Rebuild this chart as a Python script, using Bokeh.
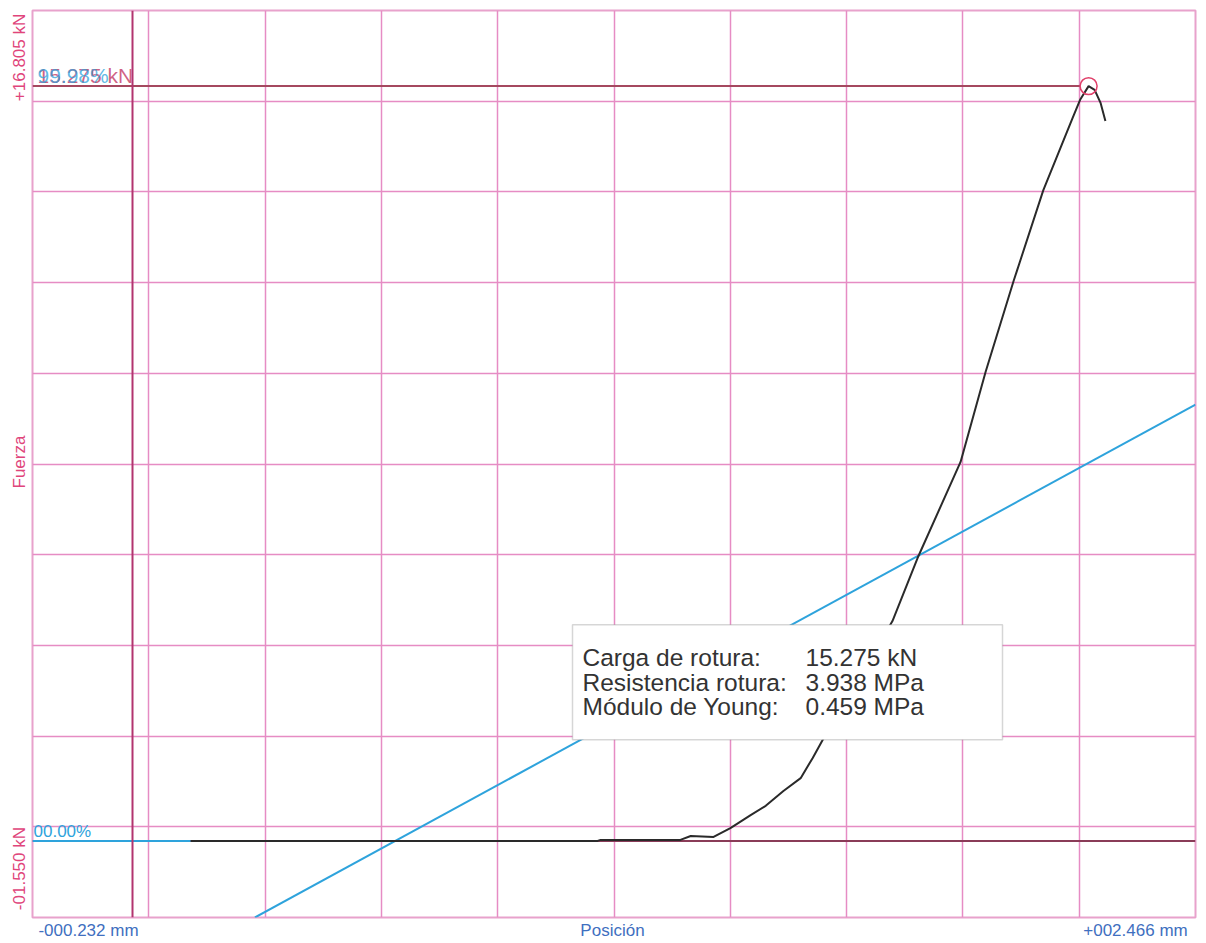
import math
from bokeh.plotting import figure
from bokeh.models import (Label, Span, Grid, FixedTicker, Range1d, BoxAnnotation,
                          LinearAxis)
from bokeh.embed import file_html
from bokeh.resources import INLINE

# ---- data ----
x_min, x_max = -0.232, 2.466
y_min, y_max = -1.550, 16.805

pos_mm = [0.135, 0.622, 1.079, 1.086, 1.271, 1.295, 1.348, 1.387, 1.434, 1.469,
          1.510, 1.550, 1.578, 1.601, 1.680, 1.763, 1.821, 1.921, 1.979, 2.044,
          2.113, 2.181, 2.199, 2.218, 2.232, 2.246, 2.257]
force_kN = [0.00, 0.00, 0.00, 0.02, 0.02, 0.10, 0.08, 0.26, 0.52, 0.71,
            1.01, 1.27, 1.68, 2.04, 3.20, 4.45, 5.72, 7.67, 9.49, 11.33,
            13.17, 14.63, 15.01, 15.275, 15.20, 14.93, 14.57]

young_x = [0.284, 2.466]
young_y = [-1.550, 8.83]

peak_x, peak_y = 2.218, 15.275

x_labels = ["-000.232 mm", "Posición", "+002.466 mm"]
y_labels = ["-01.550 kN", "Fuerza", "+16.805 kN"]
marker_labels = ["00.00%", "99.98%", "15.275 kN"]
box_names = ["Carga de rotura:", "Resistencia rotura:", "Módulo de Young:"]
box_values = ["15.275 kN", "3.938 MPa", "0.459 MPa"]

# ---- layout (page pixels of the frame) ----
FL, FR, FT, FB = 32, 1195, 10, 918
W, H = 1198, 942


def dx(px):
    return x_min + (px - FL) / (FR - FL) * (x_max - x_min)


def dy(py):
    return y_min + (FB - py) / (FB - FT) * (y_max - y_min)


GRID = "#e68cc4"
PINK = "#e0457b"
BLUE = "#3f6fc0"
CYAN = "#2ea3dc"
FONT = "Liberation Sans"

p = figure(width=W, height=H, output_backend="svg", toolbar_location=None,
           x_range=Range1d(x_min, x_max), y_range=Range1d(y_min, y_max),
           x_axis_type=None, y_axis_type=None,
           min_border_left=FL, min_border_right=W - FR,
           min_border_top=FT, min_border_bottom=H - FB)
p.outline_line_color = "#e8a2cc"
p.outline_line_width = 2
p.background_fill_color = "white"
p.border_fill_color = "white"

# axes carrying the end/name labels
ylab_pos = [dy(869), dy(462), dy(57)]
yax = LinearAxis(ticker=FixedTicker(ticks=ylab_pos),
                 major_label_overrides={t: s for t, s in zip(ylab_pos, y_labels)},
                 major_label_orientation="vertical",
                 major_label_text_font=FONT, major_label_text_font_size="17px",
                 major_label_text_color=PINK, major_label_standoff=3,
                 major_tick_out=0, major_tick_in=0,
                 axis_line_color=None, major_tick_line_color=None,
                 minor_tick_line_color=None)
p.add_layout(yax, "left")

xlab_pos = [dx(88), dx(612), dx(1135)]
xax = LinearAxis(ticker=FixedTicker(ticks=xlab_pos),
                 major_label_overrides={t: s for t, s in zip(xlab_pos, x_labels)},
                 major_label_text_font=FONT, major_label_text_font_size="17px",
                 major_label_text_color=BLUE, major_label_standoff=3,
                 major_tick_out=0, major_tick_in=0,
                 axis_line_color=None, major_tick_line_color=None,
                 minor_tick_line_color=None)
p.add_layout(xax, "below")

xt = [x_min + i * (x_max - x_min) / 10 for i in range(1, 10)]
yt = [y_min + i * (y_max - y_min) / 10 for i in range(1, 10)]
p.add_layout(Grid(dimension=0, ticker=FixedTicker(ticks=xt),
                  grid_line_color=GRID, grid_line_width=1.5))
p.add_layout(Grid(dimension=1, ticker=FixedTicker(ticks=yt),
                  grid_line_color=GRID, grid_line_width=1.5))

# marker lines
p.add_layout(Span(location=0, dimension="height", line_color="#b2346f", line_width=2))
p.segment(x0=[x_min], y0=[0], x1=[x_max], y1=[0], line_color="#8a3c58", line_width=2)
p.segment(x0=[x_min], y0=[peak_y], x1=[peak_x - 0.02], y1=[peak_y],
          line_color="#a5485f", line_width=2)

# cyan baseline + Young line
p.segment(x0=[x_min], y0=[0], x1=[pos_mm[0]], y1=[0], line_color=CYAN, line_width=2)
p.line(young_x, young_y, line_color=CYAN, line_width=2)

# force curve
p.line(pos_mm, force_kN, line_color="#2a2a2a", line_width=2)
p.scatter([peak_x], [peak_y], size=17, marker="circle", fill_color=None,
          line_color="#e0406a", line_width=1.5)

# info box
p.add_layout(BoxAnnotation(left=dx(572), right=dx(1002), top=dy(625), bottom=dy(740),
                           fill_color="white", fill_alpha=1.0,
                           line_color="#777777", line_width=1.5))
for i, (n, v) in enumerate(zip(box_names, box_values)):
    by = [658, 683, 707][i]
    p.add_layout(Label(x=dx(582), y=dy(by), text=n, text_font=FONT, text_font_size="24.5px",
                       text_color="#333333", text_baseline="alphabetic"))
    p.add_layout(Label(x=dx(805), y=dy(by), text=v, text_font=FONT, text_font_size="24.5px",
                       text_color="#333333", text_baseline="alphabetic"))

# marker labels
p.add_layout(Label(x=dx(33), y=dy(832), text=marker_labels[0], text_font=FONT,
                   text_font_size="17px", text_color=CYAN, text_baseline="middle"))
p.add_layout(Label(x=dx(37), y=dy(75), text=marker_labels[2], text_font=FONT,
                   text_font_size="21px", text_color="#c8466e", text_baseline="middle",
                   text_alpha=0.85))
p.add_layout(Label(x=dx(37), y=dy(75), text=marker_labels[1], text_font=FONT,
                   text_font_size="21px", text_color=CYAN, text_baseline="middle",
                   text_alpha=0.75))

open("out.html", "w").write(file_html(p, INLINE))
